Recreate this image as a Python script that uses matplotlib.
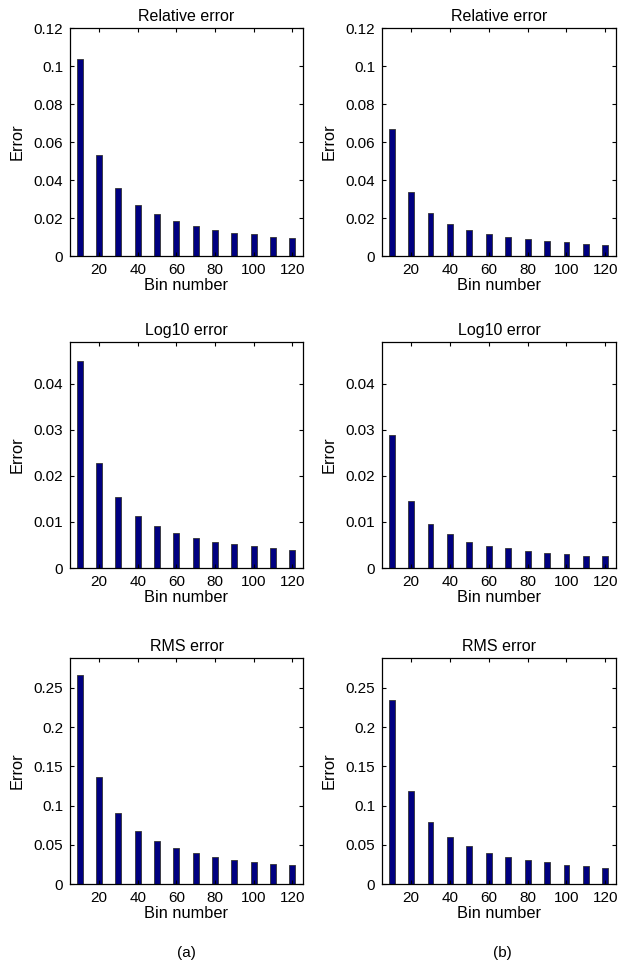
import matplotlib
matplotlib.use("Agg")
import matplotlib.pyplot as plt

plt.rcParams["font.family"] = ["Liberation Sans", "DejaVu Sans"]

bins = [10, 20, 30, 40, 50, 60, 70, 80, 90, 100, 110, 120]
xticks = [20, 40, 60, 80, 100, 120]

# column (a)
rel_a = [0.1039, 0.0531, 0.0356, 0.0266, 0.0219, 0.0186, 0.0156, 0.0137, 0.0123, 0.0114, 0.0102, 0.0093]
log_a = [0.0448, 0.0228, 0.0154, 0.0113, 0.0091, 0.0076, 0.0065, 0.0056, 0.0051, 0.0048, 0.0043, 0.0039]
rms_a = [0.2658, 0.1359, 0.0907, 0.0681, 0.0549, 0.0460, 0.0392, 0.0341, 0.0311, 0.0277, 0.0256, 0.0243]
# column (b)
rel_b = [0.0671, 0.0336, 0.0226, 0.0170, 0.0135, 0.0114, 0.0100, 0.0088, 0.0081, 0.0072, 0.0065, 0.0060]
log_b = [0.0288, 0.0145, 0.0096, 0.0074, 0.0056, 0.0048, 0.0043, 0.0037, 0.0033, 0.0030, 0.0027, 0.0025]
rms_b = [0.2351, 0.1188, 0.0784, 0.0601, 0.0481, 0.0392, 0.0341, 0.0311, 0.0277, 0.0243, 0.0226, 0.0209]

titles = ["Relative error", "Log10 error", "RMS error"]
ylims = [0.12, 0.049, 0.288]
yticks = [[0, 0.02, 0.04, 0.06, 0.08, 0.1, 0.12],
          [0, 0.01, 0.02, 0.03, 0.04],
          [0, 0.05, 0.1, 0.15, 0.2, 0.25]]
yticklabels = [["0", "0.02", "0.04", "0.06", "0.08", "0.1", "0.12"],
               ["0", "0.01", "0.02", "0.03", "0.04"],
               ["0", "0.05", "0.1", "0.15", "0.2", "0.25"]]

W, H = 623, 965
fig = plt.figure(figsize=(W / 100, H / 100), dpi=100)

cols = [(70, 303), (382, 616)]
rows = [(28, 256), (342, 568), (658, 884)]
data = [[rel_a, rel_b], [log_a, log_b], [rms_a, rms_b]]

for r, (top, bot) in enumerate(rows):
    for c, (left, right) in enumerate(cols):
        ax = fig.add_axes([left / W, 1 - bot / H, (right - left) / W, (bot - top) / H])
        ax.bar(bins, data[r][c], width=3.0, color="#000080", edgecolor="#333333", linewidth=0.6)
        ax.set_xlim(5, 125.5)
        ax.set_ylim(0, ylims[r])
        ax.set_xticks(xticks)
        ax.set_yticks(yticks[r])
        ax.set_yticklabels(yticklabels[r])
        ax.tick_params(direction="in", top=True, right=True, length=3, width=0.8,
                       labelsize=11, pad=5)
        for s in ax.spines.values():
            s.set_linewidth(0.9)
        ax.set_title(titles[r], fontsize=11.5, pad=5)
        ax.set_xlabel("Bin number", fontsize=11.8, labelpad=1)
        ax.set_ylabel("Error", fontsize=11.8, labelpad=6)

fig.text(186 / W, 1 - 953 / H, "(a)", ha="center", va="center", fontsize=11)
fig.text(502 / W, 1 - 953 / H, "(b)", ha="center", va="center", fontsize=11)

fig.savefig("out.png", dpi=100)
